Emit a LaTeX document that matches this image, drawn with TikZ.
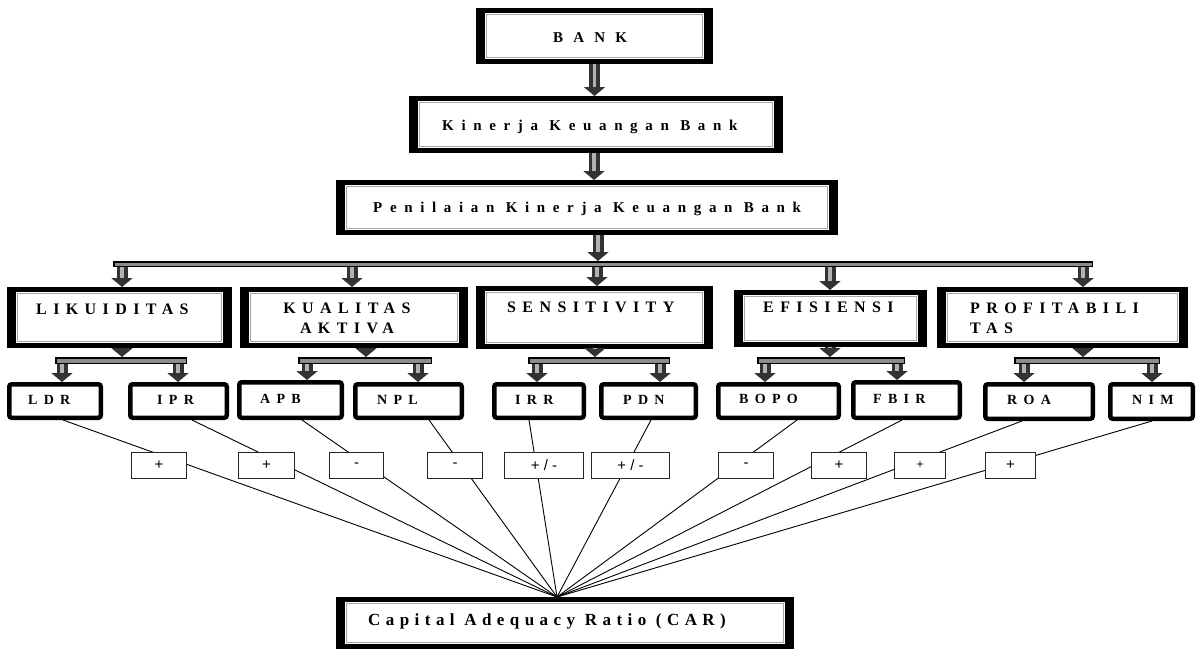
\documentclass[tikz,border=0pt]{standalone}
\usepackage{fontspec}
\setmainfont{Liberation Serif}
\newfontfamily\sgnfont{Liberation Sans}
\newfontfamily\topfont[LetterSpace=51]{Liberation Serif}
\newfontfamily\bankfont[LetterSpace=68]{Liberation Serif}
\newfontfamily\catfont[LetterSpace=40]{Liberation Serif}
\newfontfamily\leaffont[LetterSpace=45]{Liberation Serif}
\newfontfamily\carfont[LetterSpace=32]{Liberation Serif}
\usetikzlibrary{arrows.meta,calc}
\tikzset{
  frame/.style={draw=black, line width=5pt, fill=white, inner sep=0pt,
    path picture={
      \fill[black] (path picture bounding box.south west) rectangle ([xshift=6.5pt]path picture bounding box.north west);
      \fill[black] (path picture bounding box.south east) rectangle ([xshift=-6.5pt]path picture bounding box.north east);
      \draw[gray!70, line width=0.9pt] ([shift={(8pt,-4pt)}]path picture bounding box.north west) rectangle ([shift={(-8pt,4pt)}]path picture bounding box.south east);
    }},
  leaf/.style={draw=black, line width=4.5pt, rounded corners=2.5pt, fill=white, inner sep=0pt},
  bar/.style={draw=black, line width=1.5pt, fill=black!45, inner sep=0pt},
  sign/.style={draw=black!85, line width=0.8pt, fill=white, inner sep=0pt, font=\sgnfont\fontsize{15}{17}\selectfont},
  blk/.style={draw=black!80, line width=11pt, -{Triangle[width=21pt,length=9pt]}},
  blkhi/.style={draw=gray!60, line width=3.5pt, shorten >=9pt},
  conn/.style={draw=black, line width=0.9pt},
  ttop/.style={inner sep=0pt, anchor=base west, font=\topfont\bfseries\fontsize{15}{18}\selectfont},
  tbank/.style={inner sep=0pt, anchor=base west, font=\bankfont\bfseries\fontsize{15}{18}\selectfont},
  tcat/.style={inner sep=0pt, font=\catfont\bfseries\fontsize{16}{20}\selectfont},
  tleaf/.style={inner sep=0pt, anchor=base west, font=\leaffont\bfseries\fontsize{14}{16}\selectfont},
  tcar/.style={inner sep=0pt, anchor=base west, font=\carfont\bfseries\fontsize{17}{20}\selectfont},
}
\newcommand\mkframe[5]{\node[frame, minimum width={(#4-#2-5)*1pt}, minimum height={(#5-#3-5)*1pt}] (#1) at ({(#2+#4)/2},{(#3+#5)/2}) {};}
\newcommand\mkleaf[5]{\node[leaf, minimum width={(#4-#2-4.5)*1pt}, minimum height={(#5-#3-4.5)*1pt}] (#1) at ({(#2+#4)/2},{(#3+#5)/2}) {};}
\newcommand\mkbar[5]{\node[bar, minimum width={(#4-#2-1.5)*1pt}, minimum height={(#5-#3-1.5)*1pt}] (#1) at ({(#2+#4)/2},{(#3+#5)/2}) {};}
\newcommand\barr[2]{\draw[blk] #1 -- #2; \draw[blkhi] #1 -- #2;}
\begin{document}
\begin{tikzpicture}[x=1pt,y=-1pt]
\useasboundingbox (0,0) rectangle (1199,649);
% top frames
\mkframe{bank}{476}{8}{713}{64}
\mkframe{kin}{409}{96}{783}{153}
\mkframe{pen}{336}{180}{838}{235}
% main bar
\mkbar{bar0}{113}{261}{1093}{267}
% category frames
\mkframe{lik}{7}{287}{232}{348}
\mkframe{kua}{240}{287}{468}{348}
\mkframe{sen}{476}{286}{713}{349}
\mkframe{efi}{734}{290}{927}{347}
\mkframe{pro}{937}{287}{1188}{348}
% sub bars
\mkbar{b1}{55}{357}{187}{364}
\mkbar{b2}{298}{357}{432}{364}
\mkbar{b3}{528}{357}{670}{364}
\mkbar{b4}{757}{357}{905}{364}
\mkbar{b5}{1014}{357}{1160}{364}
% leaves
\mkleaf{ldr}{7}{382}{103}{420}
\mkleaf{ipr}{128}{382}{229}{420}
\mkleaf{apb}{237}{380}{344}{420}
\mkleaf{npl}{353}{382}{464}{420}
\mkleaf{irr}{492}{382}{586}{420}
\mkleaf{pdn}{599}{382}{698}{420}
\mkleaf{bopo}{716}{382}{841}{420}
\mkleaf{fbir}{851}{380}{962}{420}
\mkleaf{roa}{983}{382}{1095}{421}
\mkleaf{nim}{1108}{382}{1195}{421}
% CAR
\mkframe{car}{336}{597}{794}{649}
% texts
\node[tbank] (tbank) at (553,42) {BANK};
\node[ttop] (tkin) at (442,130) {Kinerja Keuangan Bank};
\node[ttop] (tpen) at (373,212) {Penilaian Kinerja Keuangan Bank};
\node[tcat, anchor=base west] (tlik) at (36,314) {LIKUIDITAS};
\node[tcat, anchor=north, align=center] (tkua) at (347,303) {KUALITAS\\AKTIVA};
\node[tcat, anchor=base west] (tsen) at (507,312) {SENSITIVITY};
\node[tcat, anchor=base west] (tefi) at (763,312) {EFISIENSI};
\node[tcat, anchor=north west, align=left] (tpro) at (970,303) {PROFITABILI\\TAS};
\node[tleaf] (tldr) at (28,404) {LDR};
\node[tleaf] (tipr) at (157,404) {IPR};
\node[tleaf] (tapb) at (260,403) {APB};
\node[tleaf] (tnpl) at (377,404) {NPL};
\node[tleaf] (tirr) at (515,404) {IRR};
\node[tleaf] (tpdn) at (623,404) {PDN};
\node[tleaf] (tbopo) at (739,403) {BOPO};
\node[tleaf] (tfbir) at (873,403) {FBIR};
\node[tleaf] (troa) at (1007,404) {ROA};
\node[tleaf] (tnim) at (1132,404) {NIM};
\node[tcar] (tcar) at (368,625) {Capital Adequacy Ratio (CAR)};
% block arrows
\barr{(bank.south)}{(bank.south |- kin.north)}
\barr{(kin.south -| 594,0)}{(pen.north -| 594,0)}
\barr{(pen.south -| 598,0)}{(bar0.north -| 598,0)}
\barr{(bar0.south -| 122,0)}{(lik.north -| 122,0)}
\barr{(bar0.south -| 352,0)}{(kua.north -| 352,0)}
\barr{(bar0.south -| 597,0)}{(sen.north -| 597,0)}
\barr{(bar0.south -| 830,0)}{(efi.north -| 830,0)}
\barr{(bar0.south -| 1083,0)}{(pro.north -| 1083,0)}
\barr{(lik.south -| 122,0)}{(b1.north -| 122,0)}
\barr{(kua.south -| 366,0)}{(b2.north -| 366,0)}
\barr{(sen.south -| 595,0)}{(b3.north -| 595,0)}
\barr{(efi.south -| 830,0)}{(b4.north -| 830,0)}
\barr{(pro.south -| 1083,0)}{(b5.north -| 1083,0)}
\barr{(b1.south -| 62,0)}{(ldr.north -| 62,0)}
\barr{(b1.south -| 178,0)}{(ipr.north -| 178,0)}
\barr{(b2.south -| 307,0)}{(apb.north -| 307,0)}
\barr{(b2.south -| 418,0)}{(npl.north -| 418,0)}
\barr{(b3.south -| 537,0)}{(irr.north -| 537,0)}
\barr{(b3.south -| 660,0)}{(pdn.north -| 660,0)}
\barr{(b4.south -| 765,0)}{(bopo.north -| 765,0)}
\barr{(b4.south -| 897,0)}{(fbir.north -| 897,0)}
\barr{(b5.south -| 1024,0)}{(roa.north -| 1024,0)}
\barr{(b5.south -| 1152,0)}{(nim.north -| 1152,0)}
% connectors to CAR
\coordinate (apex) at (car.north -| 557,0);
\draw[conn] (ldr.south -| 63,0) -- (apex);
\draw[conn] (ipr.south -| 192,0) -- (apex);
\draw[conn] (apb.south -| 302,0) -- (apex);
\draw[conn] (npl.south -| 429,0) -- (apex);
\draw[conn] (irr.south -| 529,0) -- (apex);
\draw[conn] (pdn.south -| 651,0) -- (apex);
\draw[conn] (bopo.south -| 797,0) -- (apex);
\draw[conn] (fbir.south -| 902,0) -- (apex);
\draw[conn] (roa.south -| 1022,0) -- (apex);
\draw[conn] (nim.south -| 1152,0) -- (apex);
% sign boxes
\node[sign, minimum width=55pt, minimum height=26pt] (s1) at (159,465.5) {+};
\node[sign, minimum width=56pt, minimum height=26pt] (s2) at (266.5,465.5) {+};
\node[sign, minimum width=54pt, minimum height=26pt] (s3) at (356.5,465.5) {-};
\node[sign, minimum width=55pt, minimum height=26pt] (s4) at (455,465.5) {-};
\node[sign, minimum width=79pt, minimum height=26pt] (s5) at (544,465.5) {+ / -};
\node[sign, minimum width=78pt, minimum height=26pt] (s6) at (630.5,465.5) {+ / -};
\node[sign, minimum width=55pt, minimum height=26pt] (s7) at (746,465.5) {-};
\node[sign, minimum width=55pt, minimum height=26pt] (s8) at (839,465.5) {+};
\node[sign, minimum width=51pt, minimum height=26pt, font=\sgnfont\fontsize{12}{14}\selectfont] (s9) at (920,465.5) {+};
\node[sign, minimum width=50pt, minimum height=26pt] (s10) at (1010.5,465.5) {+};
\end{tikzpicture}
\end{document}
